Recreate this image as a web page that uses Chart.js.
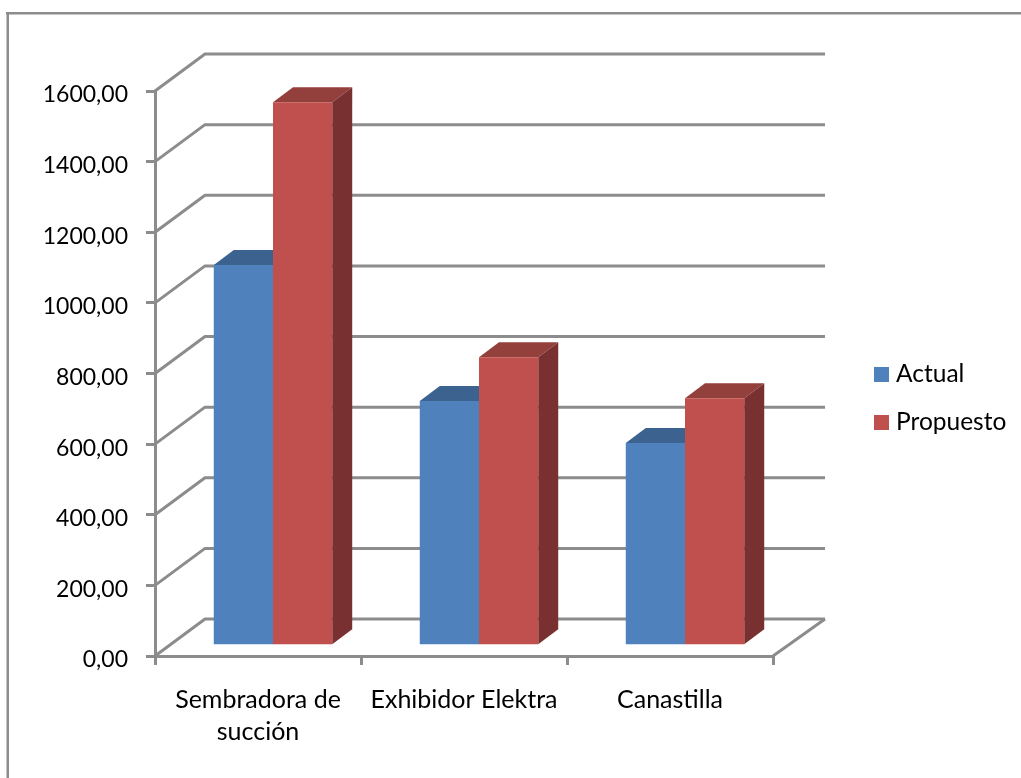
<!DOCTYPE html>
<html>
<head>
<meta charset="utf-8">
<title>Actual vs Propuesto</title>
<script src="https://cdn.jsdelivr.net/npm/chart.js@4"></script>
<style>
    html, body { margin: 0; padding: 0; background: #fff; }
    canvas { display: block; }
</style>
</head>
<body>
<canvas id="chart" width="1021" height="778"></canvas>
<script>
// Chart data
const categories = [['Sembradora de', 'succión'], 'Exhibidor Elektra', 'Canastilla'];
const actual = [1078, 693, 574];
const propuesto = [1539, 817, 701];
const yTicks = [0, 200, 400, 600, 800, 1000, 1200, 1400, 1600];

const seriesColors = ['#4F81BD', '#C0504D'];
const topColors = ['#3C6290', '#933F3C'];
const sideColors = ['#335379', '#783130'];
const lineGray = '#8C8C8C';
const fontFamily = 'Lato, sans-serif';

// Depth of the back wall and of the bars, in pixels
const wallDepth = { x: 50, y: -37 };
const barDepth = { x: 20, y: -15 };
const barShift = { x: 15, y: -10.3 };

// Small canvas used as legend swatch
function makeSwatch(color) {
    const c = document.createElement('canvas');
    c.width = 15;
    c.height = 15;
    const g = c.getContext('2d');
    g.fillStyle = color;
    g.fillRect(0, 0, 15, 15);
    return c;
}
const swatches = seriesColors.map(makeSwatch);

function fillFace(ctx, color, points) {
    ctx.fillStyle = color;
    ctx.beginPath();
    points.forEach((p, i) => i === 0 ? ctx.moveTo(p[0], p[1]) : ctx.lineTo(p[0], p[1]));
    ctx.closePath();
    ctx.fill();
}

const fakeThreeD = {
    id: 'fakeThreeD',
    beforeDraw(chart) {
        // Frame: only the top and left edges are visible
        const ctx = chart.ctx;
        ctx.save();
        ctx.fillStyle = lineGray;
        ctx.fillRect(6, 12, 1015, 2.5);
        ctx.fillRect(6.5, 12, 2.5, 766);
        ctx.restore();
    },
    afterLayout(chart) {
        // Put the legend where it sits in the reference
        const legend = chart.legend;
        legend.left = 855.75;
        legend.right = 1021;
        legend.top = 338.75;
        legend.bottom = 470;
    },
    beforeDatasetsDraw(chart) {
        const ctx = chart.ctx;
        const area = chart.chartArea;
        const yScale = chart.scales.y;

        // Back wall lines and the diagonals going to them
        ctx.save();
        ctx.strokeStyle = lineGray;
        ctx.lineWidth = 3;
        ctx.lineJoin = 'round';
        yTicks.forEach(value => {
            const y = yScale.getPixelForValue(value);
            ctx.beginPath();
            ctx.moveTo(area.left, y);
            ctx.lineTo(area.left + wallDepth.x, y + wallDepth.y);
            ctx.lineTo(area.right + wallDepth.x + 2, y + wallDepth.y);
            ctx.stroke();
        });
        const floorY = yScale.getPixelForValue(0);
        ctx.beginPath();
        ctx.moveTo(area.right, floorY);
        ctx.lineTo(area.right + wallDepth.x + 2, floorY + wallDepth.y);
        ctx.stroke();
        ctx.restore();

        // Top and side faces of the bars
        chart.data.datasets.forEach((ds, d) => {
            chart.getDatasetMeta(d).data.forEach(bar => {
                const left = bar.x - bar.width / 2 + barShift.x;
                const right = bar.x + bar.width / 2 + barShift.x;
                const top = bar.y + barShift.y;
                const base = bar.base + barShift.y;
                fillFace(ctx, topColors[d], [
                    [left, top],
                    [left + barDepth.x, top + barDepth.y],
                    [right + barDepth.x, top + barDepth.y],
                    [right, top]
                ]);
                fillFace(ctx, sideColors[d], [
                    [right, top],
                    [right + barDepth.x, top + barDepth.y],
                    [right + barDepth.x, base + barDepth.y],
                    [right, base]
                ]);
            });
        });

        // Front faces are drawn by the library, moved onto the floor
        ctx.save();
        ctx.translate(barShift.x, barShift.y);
    },
    afterDatasetsDraw(chart) {
        chart.ctx.restore();
    }
};

new Chart(document.getElementById('chart').getContext('2d'), {
    type: 'bar',
    data: {
        labels: categories,
        datasets: [
            { label: 'Actual', data: actual, backgroundColor: seriesColors[0] },
            { label: 'Propuesto', data: propuesto, backgroundColor: seriesColors[1] }
        ]
    },
    plugins: [fakeThreeD],
    options: {
        responsive: false,
        animation: false,
        events: [],
        layout: { padding: { left: 0, right: 248, top: 91, bottom: 0 } },
        datasets: { bar: { categoryPercentage: 0.575, barPercentage: 1 } },
        plugins: {
            tooltip: { enabled: false },
            legend: {
                position: 'chartArea',
                align: 'start',
                labels: {
                    usePointStyle: true,
                    pointStyleWidth: 4.5,
                    padding: 23.5,
                    color: '#000',
                    font: { family: fontFamily, size: 24.5 },
                    generateLabels(chart) {
                        const items = Chart.defaults.plugins.legend.labels.generateLabels(chart);
                        items.forEach((item, i) => { item.pointStyle = swatches[i]; });
                        return items;
                    }
                }
            }
        },
        scales: {
            x: {
                afterFit(scale) { scale.height = 122; },
                grid: { drawOnChartArea: false, color: lineGray, lineWidth: 3, tickLength: 9 },
                border: { color: lineGray, width: 3 },
                ticks: {
                    color: '#000',
                    padding: 19,
                    maxRotation: 0,
                    autoSkip: false,
                    font: { family: fontFamily, size: 25, lineHeight: 1.28 }
                }
            },
            y: {
                min: 0,
                max: 1600,
                afterFit(scale) { scale.width = 155; },
                afterBuildTicks(scale) { scale.ticks = yTicks.map(value => ({ value })); },
                grid: { drawOnChartArea: false, color: lineGray, lineWidth: 3, tickLength: 9 },
                border: { color: lineGray, width: 3 },
                ticks: {
                    color: '#000',
                    padding: 18,
                    labelOffset: 4,
                    font: { family: fontFamily, size: 23 },
                    callback: value => value.toFixed(2).replace('.', ',')
                }
            }
        }
    }
});
</script>
</body>
</html>
